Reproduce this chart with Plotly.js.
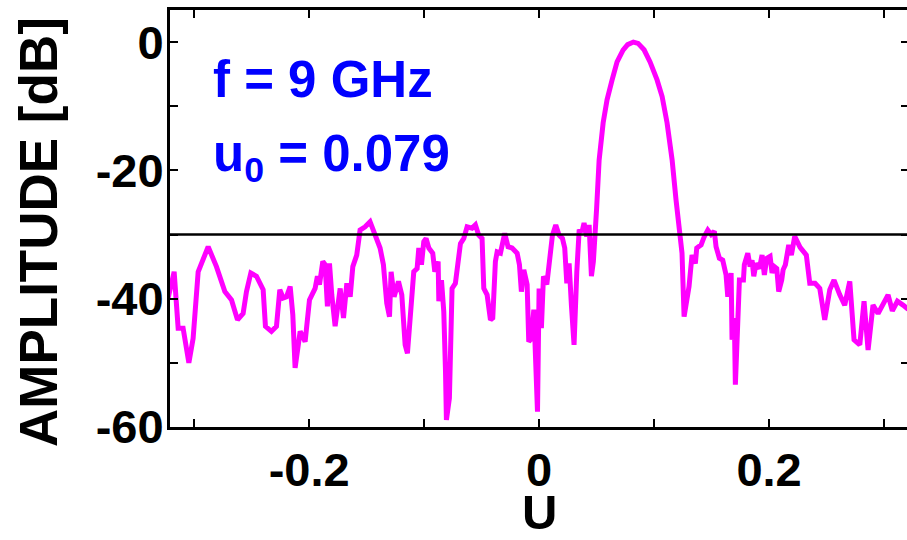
<!DOCTYPE html>
<html>
<head>
<meta charset="utf-8">
<script src="https://cdn.plot.ly/plotly-3.0.1.min.js"></script>
<style>
html, body { margin: 0; padding: 0; overflow: hidden; background: #fff; }
#chart { width: 909px; height: 540px; }
</style>
</head>
<body>
<div id="chart"></div>
<script>
// U coordinate (sine-space) samples
var uValues = [
  -0.3226, -0.3174, -0.3139, -0.3096, -0.3046, -0.3009, -0.2965, -0.2878, -0.2806, -0.2733,
  -0.2675, -0.2623, -0.2574, -0.2545, -0.2507, -0.2458, -0.2400, -0.2380, -0.2328, -0.2284,
  -0.2255, -0.2226, -0.2197, -0.2165, -0.2142, -0.2122, -0.2078, -0.2035, -0.1997, -0.1948,
  -0.1928, -0.1910, -0.1881, -0.1861, -0.1841, -0.1823, -0.1803, -0.1774, -0.1730, -0.1701,
  -0.1672, -0.1643, -0.1620, -0.1586, -0.1557, -0.1513, -0.1470, -0.1426, -0.1383, -0.1354,
  -0.1325, -0.1301, -0.1287, -0.1261, -0.1223, -0.1194, -0.1165, -0.1145, -0.1122, -0.1090,
  -0.1061, -0.1046, -0.1023, -0.1003, -0.0983, -0.0959, -0.0925, -0.0907, -0.0878, -0.0872,
  -0.0849, -0.0829, -0.0814, -0.0806, -0.0780, -0.0757, -0.0728, -0.0684, -0.0655, -0.0626,
  -0.0583, -0.0554, -0.0525, -0.0496, -0.0481, -0.0452, -0.0423, -0.0403, -0.0380, -0.0365,
  -0.0336, -0.0299, -0.0270, -0.0235, -0.0191, -0.0171, -0.0154, -0.0133, -0.0104, -0.0090,
  -0.0067, -0.0046, -0.0014,  0.0000,  0.0020,  0.0038,  0.0067,  0.0087,  0.0116,  0.0145,
   0.0174,  0.0203,  0.0223,  0.0241,  0.0261,  0.0281,  0.0304,  0.0328,  0.0348,  0.0377,
   0.0391,  0.0414,  0.0435,  0.0455,  0.0472,  0.0500,  0.0522,  0.0557,  0.0591,  0.0635,
   0.0678,  0.0730,  0.0770,  0.0820,  0.0861,  0.0913,  0.0965,  0.1026,  0.1070,  0.1113,
   0.1157,  0.1191,  0.1217,  0.1243,  0.1261,  0.1293,  0.1304,  0.1330,  0.1359,  0.1371,
   0.1409,  0.1437,  0.1467,  0.1496,  0.1524,  0.1539,  0.1568,  0.1597,  0.1626,  0.1641,
   0.1670,  0.1678,  0.1698,  0.1707,  0.1728,  0.1742,  0.1777,  0.1785,  0.1815,  0.1835,
   0.1852,  0.1867,  0.1887,  0.1916,  0.1939,  0.1959,  0.1980,  0.2009,  0.2026,  0.2046,
   0.2067,  0.2084,  0.2110,  0.2122,  0.2142,  0.2171,  0.2194,  0.2223,  0.2270,  0.2324,
   0.2354,  0.2400,  0.2441,  0.2484,  0.2528,  0.2565,  0.2615,  0.2658,  0.2702,  0.2739,
   0.2789,  0.2826,  0.2861,  0.2904,  0.2948,  0.3035,  0.3072,  0.3116,  0.3165,  0.3200,
   0.3230
];
// Amplitude in dB at each U sample
var amplitudeDb = [
  -39.9, -35.8, -44.6, -44.6, -50.0, -46.2, -35.8, -31.9, -35.0, -38.9,
  -40.2, -43.3, -42.3, -38.9, -36.0, -36.5, -38.6, -44.3, -45.1, -44.3,
  -38.6, -39.9, -39.7, -38.1, -42.5, -50.8, -45.1, -46.7, -40.2, -38.4,
  -36.5, -37.8, -34.2, -34.7, -41.2, -34.5, -39.4, -44.3, -38.4, -43.0,
  -37.6, -39.7, -35.0, -33.2, -29.3, -28.8, -28.0, -30.3, -32.1, -34.7,
  -40.7, -42.8, -35.8, -39.7, -37.3, -39.4, -47.2, -48.5, -42.0, -35.8,
  -35.3, -32.1, -34.7, -31.1, -30.6, -32.1, -32.9, -35.8, -34.2, -40.4,
  -37.1, -42.0, -51.3, -58.9, -55.5, -38.4, -37.6, -31.4, -30.6, -28.8,
  -29.0, -28.5, -30.1, -30.6, -38.4, -39.4, -43.3, -43.0, -34.2, -32.7,
  -32.9, -29.8, -31.9, -32.1, -32.9, -34.7, -38.9, -35.5, -37.8, -46.7,
  -46.2, -41.7, -57.6, -38.4, -44.6, -36.5, -37.8, -34.2, -30.1, -28.5,
  -30.1, -30.6, -32.1, -37.6, -34.5, -41.0, -47.2, -35.8, -29.5, -29.3,
  -28.2, -30.3, -28.5, -36.5, -34.2, -26.0, -18.4, -12.6,  -9.0,  -5.9,
   -3.1,  -1.25, -0.4,   0.0,  -0.2,  -1.2,  -3.1,  -5.9,  -8.5, -12.6,
  -18.4, -24.6, -29.8, -32.9, -42.8, -38.6, -38.1, -33.2, -34.5, -32.1,
  -31.6, -30.3, -29.3, -30.0, -29.5, -31.9, -33.7, -34.0, -36.3, -39.7,
  -36.0, -46.4, -43.0, -53.4, -43.3, -37.1, -37.1, -34.7, -32.9, -35.0,
  -34.0, -36.5, -34.5, -35.3, -33.2, -36.3, -33.7, -33.4, -36.0, -35.0,
  -35.3, -38.9, -37.1, -35.5, -34.7, -31.6, -33.2, -30.3, -32.0, -33.2,
  -37.6, -37.6, -38.4, -43.3, -38.6, -37.1, -39.4, -41.0, -37.3, -46.4,
  -47.2, -40.4, -48.0, -41.0, -42.3, -39.4, -41.9, -40.4, -41.0, -41.5,
  -41.3
];
var thresholdDb = -30;
var xTickVals = [-0.2, 0, 0.2];
var xTickText = ['-0.2', '0', '0.2'];
var xMinorVals = [-0.3, -0.1, 0.1, 0.3];
var yTickVals = [-60, -40, -20, 0];
var yTickText = ['-60', '-40', '-20', '0'];
var yMinorVals = [-50, -30, -10];
var yTitle = 'AMPLITUDE [dB]';
var xTitle = 'U';
var labelFreq = 'f = 9 GHz';
var labelSteer = 'u<sub>0</sub> = 0.079';

var fam = '"Liberation Sans", Arial, Helvetica, sans-serif';

var traces = [{
  x: uValues, y: amplitudeDb, type: 'scatter', mode: 'lines',
  line: { color: '#ff00ff', width: 5 }, hoverinfo: 'skip'
}];

var axisCommon = {
  showgrid: false, zeroline: false, showline: true, linecolor: '#000', linewidth: 3,
  ticks: 'inside', ticklen: 8, tickwidth: 2, tickcolor: '#000', mirror: 'ticks',
  tickmode: 'array', tickfont: { family: fam, size: 47, color: '#000', weight: 'bold' }
};

var plotL = 170, plotT = 10, plotW = 739, plotH = 417;

var layout = {
  width: 909, height: 540,
  margin: { l: plotL, r: 0, t: plotT, b: 113 },
  paper_bgcolor: '#fff', plot_bgcolor: '#fff',
  showlegend: false,
  xaxis: Object.assign({}, axisCommon, {
    range: [-0.321, 0.3217],
    tickvals: xTickVals, ticktext: xTickText,
    minor: { tickmode: 'array', tickvals: xMinorVals, ticks: 'inside', ticklen: 8, tickwidth: 2, tickcolor: '#000' }
  }),
  yaxis: Object.assign({}, axisCommon, {
    range: [-60, 5],
    tickvals: yTickVals, ticktext: yTickText,
    ticklabelstandoff: -6,
    minor: { tickmode: 'array', tickvals: yMinorVals, ticks: 'inside', ticklen: 8, tickwidth: 2, tickcolor: '#000' }
  }),
  shapes: [{
    type: 'line', xref: 'paper', x0: 0, x1: 1, yref: 'y', y0: thresholdDb, y1: thresholdDb,
    line: { color: '#000', width: 2.5 }
  }],
  annotations: [
    { text: yTitle, xref: 'paper', yref: 'paper', x: (38 - plotL) / plotW, y: (plotT + plotH - 232) / plotH,
      xanchor: 'center', yanchor: 'middle', textangle: -90, showarrow: false,
      font: { family: fam, size: 53, color: '#000', weight: 'bold' } },
    { text: xTitle, xref: 'paper', yref: 'paper', x: (539 - plotL) / plotW, y: (plotT + plotH - 541) / plotH,
      xanchor: 'center', yanchor: 'bottom', showarrow: false,
      font: { family: fam, size: 49, color: '#000', weight: 'bold' } },
    { text: labelFreq, xref: 'paper', yref: 'paper', x: (211 - plotL) / plotW, y: (plotT + plotH - 80) / plotH,
      xanchor: 'left', yanchor: 'middle', showarrow: false,
      font: { family: fam, size: 51, color: '#0000ff', weight: 'bold' } },
    { text: labelSteer, xref: 'paper', yref: 'paper', x: (211 - plotL) / plotW, y: (plotT + plotH - 157) / plotH,
      xanchor: 'left', yanchor: 'middle', showarrow: false,
      font: { family: fam, size: 51, color: '#0000ff', weight: 'bold' } }
  ]
};

Plotly.newPlot('chart', traces, layout, { displayModeBar: false, staticPlot: true });
</script>
</body>
</html>
